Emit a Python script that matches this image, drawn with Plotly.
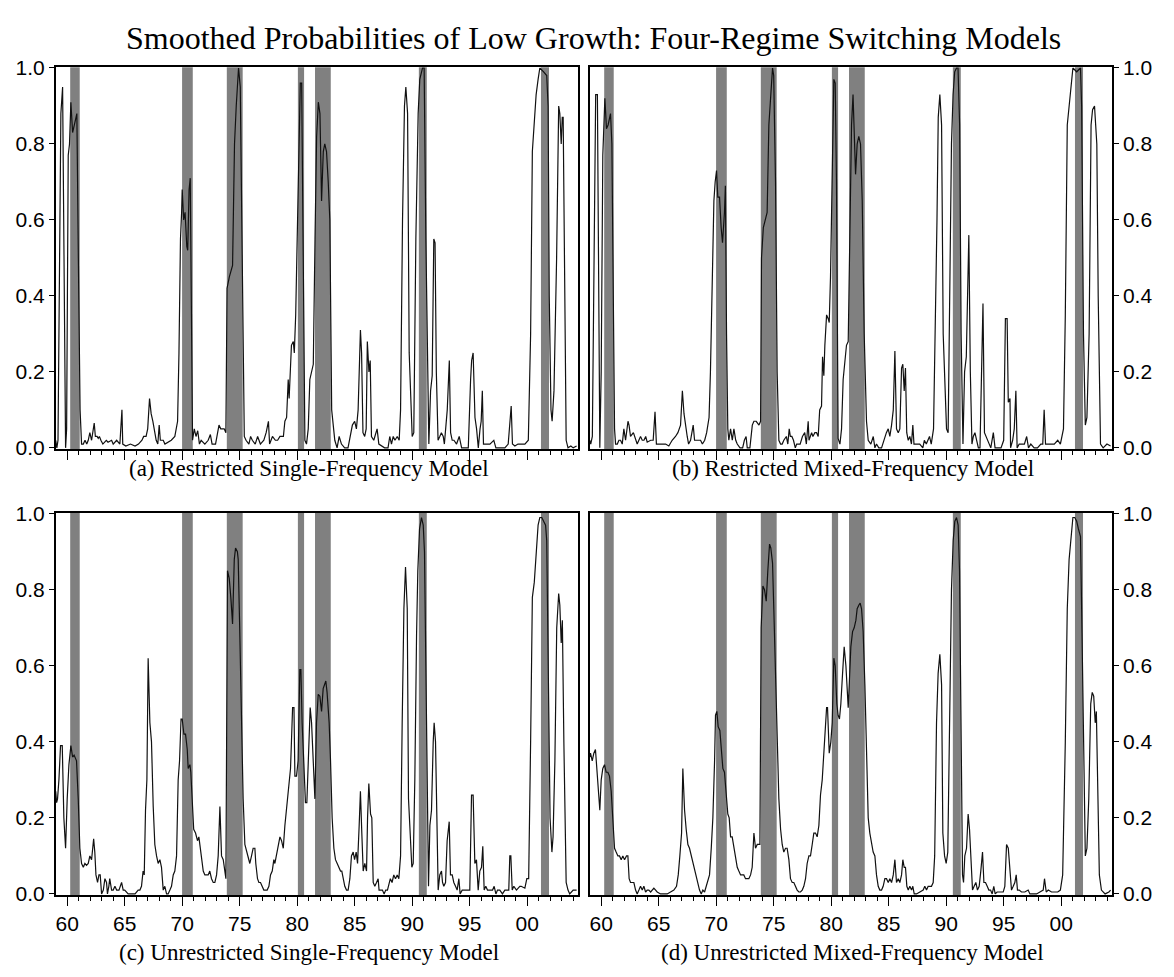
import plotly.graph_objects as go

# ---------------- data ----------------
TITLE = "Smoothed Probabilities of Low Growth: Four-Regime Switching Models"
panel_titles = ["(a) Restricted Single-Frequency Model",
                "(b) Restricted Mixed-Frequency Model",
                "(c) Unrestricted Single-Frequency Model",
                "(d) Unrestricted Mixed-Frequency Model"]

# NBER recession shading (decimal years)
rec_start = [1960.26, 1969.99, 1973.88, 1980.06, 1981.55, 1990.58, 2001.20]
rec_end   = [1961.09, 1970.92, 1975.26, 1980.60, 1982.92, 1991.27, 2001.90]

xtick_vals = [1960, 1965, 1970, 1975, 1980, 1985, 1990, 1995, 2000]
xtick_text = ["60", "65", "70", "75", "80", "85", "90", "95", "00"]
ytick_vals = [0.0, 0.2, 0.4, 0.6, 0.8, 1.0]

# (decimal year, probability)
prob_a = [(1959.0,.02),(1959.1,.00),(1959.2,.02),(1959.28,.25),(1959.45,.88),(1959.6,.95),(1959.73,.45),(1959.86,.00),(1959.95,.05),(1960.09,.77),(1960.2,.80),(1960.32,.91),(1960.47,.83),(1960.66,.86),(1960.84,.88),(1960.97,.50),(1961.12,.10),(1961.25,.01),(1961.4,.01),(1961.55,.02),(1961.7,.01),(1961.83,.02),(1961.97,.04),(1962.12,.02),(1962.35,.065),(1962.45,.03),(1962.6,.03),(1962.7,.025),(1962.8,.03),(1962.93,.02),(1963.1,.01),(1963.4,.02),(1963.55,.015),(1963.86,.02),(1964.0,.01),(1964.3,.02),(1964.58,.01),(1964.76,.10),(1964.83,.01),(1965.1,.005),(1965.5,.01),(1965.9,.005),(1966.2,.01),(1966.5,.02),(1966.65,.03),(1966.86,.03),(1967.0,.05),(1967.16,.13),(1967.3,.09),(1967.45,.07),(1967.6,.04),(1967.74,.02),(1967.88,.01),(1968.0,.06),(1968.1,.02),(1968.35,.02),(1968.5,.01),(1968.8,.015),(1969.05,.02),(1969.36,.03),(1969.5,.05),(1969.6,.07),(1969.72,.25),(1969.85,.55),(1969.95,.62),(1970.0,.68),(1970.13,.60),(1970.25,.62),(1970.4,.53),(1970.48,.52),(1970.6,.68),(1970.7,.71),(1970.82,.30),(1970.9,.02),(1971.05,.05),(1971.2,.03),(1971.35,.045),(1971.5,.01),(1971.65,.02),(1971.97,.01),(1972.26,.02),(1972.45,.035),(1972.6,.01),(1972.9,.01),(1973.2,.06),(1973.35,.05),(1973.65,.05),(1973.8,.04),(1973.9,.42),(1974.1,.45),(1974.38,.48),(1974.55,.80),(1974.7,.90),(1974.9,1.0),(1975.05,.95),(1975.25,.40),(1975.4,.03),(1975.55,.02),(1975.8,.01),(1975.95,.03),(1976.1,.02),(1976.35,.01),(1976.56,.03),(1976.8,.01),(1977.1,.02),(1977.3,.04),(1977.5,.07),(1977.6,.01),(1977.85,.03),(1978.1,.02),(1978.3,.02),(1978.5,.03),(1978.8,.03),(1978.93,.07),(1979.08,.08),(1979.22,.18),(1979.3,.13),(1979.5,.27),(1979.66,.28),(1979.75,.25),(1979.87,.35),(1980.0,.55),(1980.16,.80),(1980.27,.96),(1980.39,.96),(1980.53,.40),(1980.67,.02),(1980.81,.01),(1980.96,.05),(1981.1,.18),(1981.25,.20),(1981.4,.22),(1981.55,.55),(1981.69,.82),(1981.84,.91),(1981.98,.88),(1982.12,.65),(1982.2,.77),(1982.27,.78),(1982.4,.80),(1982.55,.78),(1982.7,.70),(1982.84,.60),(1983.0,.10),(1983.13,.05),(1983.27,.02),(1983.47,.00),(1983.65,.03),(1983.85,.01),(1984.13,.00),(1984.42,.00),(1984.63,.04),(1984.8,.06),(1985.0,.07),(1985.15,.05),(1985.3,.10),(1985.5,.31),(1985.6,.25),(1985.72,.04),(1985.87,.03),(1986.0,.05),(1986.1,.28),(1986.24,.20),(1986.35,.23),(1986.46,.03),(1986.66,.02),(1986.95,.05),(1987.1,.01),(1987.6,.00),(1987.9,.00),(1988.05,.03),(1988.2,.01),(1988.35,.03),(1988.5,.02),(1988.7,.03),(1988.87,.02),(1988.99,.10),(1989.16,.60),(1989.33,.90),(1989.45,.95),(1989.6,.88),(1989.74,.25),(1989.88,.10),(1990.0,.03),(1990.14,.04),(1990.32,.55),(1990.52,.88),(1990.66,.97),(1990.9,1.0),(1991.04,1.0),(1991.19,.55),(1991.33,.20),(1991.45,.01),(1991.6,.15),(1991.74,.19),(1991.88,.55),(1991.99,.54),(1992.1,.20),(1992.25,.02),(1992.4,.03),(1992.54,.04),(1992.7,.03),(1992.8,.01),(1993.05,.10),(1993.23,.23),(1993.34,.04),(1993.48,.02),(1993.63,.02),(1993.86,.01),(1994.09,.03),(1994.3,.00),(1994.6,.00),(1994.88,.00),(1995.08,.18),(1995.17,.23),(1995.3,.25),(1995.46,.08),(1995.6,.05),(1995.75,.00),(1995.9,.05),(1996.0,.07),(1996.1,.15),(1996.2,.01),(1996.45,.01),(1996.76,.01),(1997.1,.02),(1997.28,.00),(1997.5,.00),(1997.77,.00),(1998.06,.00),(1998.35,.01),(1998.5,.08),(1998.61,.11),(1998.72,.01),(1998.93,.005),(1999.2,.01),(1999.8,.01),(2000.1,.02),(2000.3,.30),(2000.45,.78),(2000.6,.85),(2000.78,.93),(2000.95,.97),(2001.1,1.0),(2001.43,.99),(2001.7,.98),(2001.82,.90),(2001.92,.40),(2002.07,.10),(2002.17,.07),(2002.33,.15),(2002.56,.50),(2002.74,.90),(2002.84,.88),(2002.96,.80),(2003.05,.87),(2003.13,.87),(2003.22,.60),(2003.39,.02),(2003.55,.00),(2003.8,.005),(2004.0,.00),(2004.3,.005)]

prob_b = [(1959.0,.02),(1959.09,.01),(1959.23,.03),(1959.38,.50),(1959.52,.93),(1959.67,.93),(1959.77,.50),(1959.88,.00),(1960.0,.20),(1960.14,.77),(1960.32,.92),(1960.46,.84),(1960.6,.85),(1960.81,.88),(1960.93,.80),(1961.04,.30),(1961.16,.05),(1961.25,.01),(1961.4,.01),(1961.54,.02),(1961.68,.02),(1961.83,.01),(1961.97,.05),(1962.12,.02),(1962.33,.07),(1962.42,.06),(1962.55,.03),(1962.8,.04),(1963.0,.02),(1963.13,.01),(1963.42,.03),(1963.57,.02),(1963.72,.02),(1963.87,.03),(1964.0,.015),(1964.3,.02),(1964.52,.02),(1964.68,.095),(1964.8,.01),(1965.0,.01),(1965.3,.01),(1965.6,.01),(1965.88,.005),(1966.17,.02),(1966.46,.03),(1966.67,.04),(1966.9,.06),(1967.06,.15),(1967.2,.09),(1967.35,.05),(1967.48,.03),(1967.6,.01),(1967.77,.02),(1968.0,.06),(1968.12,.02),(1968.35,.02),(1968.64,.02),(1968.8,.01),(1969.0,.02),(1969.17,.04),(1969.38,.08),(1969.5,.20),(1969.66,.45),(1969.8,.65),(1969.91,.70),(1970.03,.73),(1970.14,.66),(1970.29,.66),(1970.43,.58),(1970.55,.54),(1970.72,.62),(1970.8,.69),(1970.9,.30),(1971.01,.05),(1971.1,.02),(1971.25,.05),(1971.4,.02),(1971.54,.05),(1971.7,.02),(1971.83,.01),(1972.07,.00),(1972.3,.00),(1972.45,.02),(1972.6,.03),(1972.7,.00),(1972.93,.00),(1973.14,.06),(1973.28,.07),(1973.48,.07),(1973.72,.06),(1973.86,.07),(1973.94,.50),(1974.1,.58),(1974.3,.61),(1974.43,.62),(1974.58,.85),(1974.72,.93),(1974.9,1.0),(1975.0,.98),(1975.16,.70),(1975.3,.20),(1975.45,.02),(1975.6,.01),(1975.74,.01),(1975.88,.02),(1976.1,.03),(1976.23,.01),(1976.35,.05),(1976.45,.03),(1976.58,.03),(1976.72,.02),(1976.88,.00),(1977.0,.01),(1977.3,.01),(1977.5,.03),(1977.7,.04),(1977.84,.01),(1978.0,.07),(1978.07,.02),(1978.3,.04),(1978.41,.03),(1978.58,.04),(1978.73,.04),(1978.87,.03),(1979.0,.10),(1979.16,.11),(1979.25,.24),(1979.36,.19),(1979.45,.27),(1979.6,.35),(1979.74,.34),(1979.83,.33),(1979.94,.45),(1980.09,.75),(1980.23,.97),(1980.35,.96),(1980.46,.70),(1980.6,.025),(1980.76,.01),(1980.9,.05),(1981.04,.18),(1981.2,.23),(1981.33,.27),(1981.48,.28),(1981.62,.55),(1981.77,.85),(1981.9,.93),(1982.06,.78),(1982.12,.72),(1982.26,.80),(1982.4,.82),(1982.55,.80),(1982.7,.65),(1982.87,.30),(1983.0,.09),(1983.07,.07),(1983.22,.02),(1983.45,.01),(1983.66,.03),(1983.8,.00),(1983.94,.01),(1984.14,.00),(1984.38,.00),(1984.67,.03),(1984.8,.04),(1984.96,.05),(1985.1,.03),(1985.25,.06),(1985.4,.10),(1985.54,.255),(1985.68,.05),(1985.83,.04),(1985.97,.05),(1986.12,.21),(1986.23,.22),(1986.35,.15),(1986.46,.21),(1986.57,.04),(1986.7,.02),(1986.84,.03),(1986.98,.01),(1987.1,.06),(1987.2,.01),(1987.4,.01),(1987.7,.01),(1987.97,.00),(1988.1,.02),(1988.27,.01),(1988.4,.02),(1988.55,.03),(1988.7,.01),(1988.9,.05),(1989.2,.60),(1989.31,.87),(1989.45,.93),(1989.6,.85),(1989.74,.30),(1989.88,.18),(1990.03,.05),(1990.17,.04),(1990.32,.40),(1990.46,.80),(1990.6,.93),(1990.74,.99),(1990.9,1.0),(1991.03,1.0),(1991.17,.85),(1991.3,.30),(1991.46,.01),(1991.6,.20),(1991.75,.24),(1991.9,.55),(1991.97,.56),(1992.1,.20),(1992.24,.01),(1992.36,.03),(1992.5,.04),(1992.65,.02),(1992.8,.00),(1992.94,.00),(1993.1,.30),(1993.2,.38),(1993.33,.04),(1993.46,.03),(1993.6,.02),(1993.75,.01),(1993.88,.00),(1994.1,.04),(1994.25,.00),(1994.5,.00),(1994.77,.00),(1995.0,.02),(1995.15,.34),(1995.3,.34),(1995.4,.12),(1995.55,.13),(1995.6,.00),(1995.78,.02),(1995.92,.05),(1996.06,.15),(1996.17,.00),(1996.35,.01),(1996.5,.01),(1996.66,.01),(1996.8,.01),(1997.0,.03),(1997.16,.00),(1997.36,.01),(1997.65,.00),(1997.94,.00),(1998.23,.01),(1998.4,.01),(1998.52,.10),(1998.64,.01),(1998.8,.01),(1999.1,.01),(1999.4,.01),(1999.7,.02),(1999.93,.01),(2000.2,.05),(2000.36,.35),(2000.53,.85),(2000.76,.93),(2000.95,.98),(2001.02,1.0),(2001.35,.99),(2001.68,1.0),(2001.78,.90),(2001.94,.30),(2002.1,.06),(2002.24,.08),(2002.43,.30),(2002.6,.85),(2002.73,.89),(2002.9,.90),(2003.0,.85),(2003.1,.80),(2003.22,.40),(2003.42,.01),(2003.65,.00),(2003.98,.01),(2004.3,.005)]

prob_c = [(1959.0,.27),(1959.08,.24),(1959.16,.25),(1959.28,.30),(1959.42,.39),(1959.57,.39),(1959.71,.20),(1959.86,.12),(1960.0,.25),(1960.15,.34),(1960.32,.39),(1960.47,.36),(1960.6,.365),(1960.72,.355),(1960.81,.35),(1960.96,.25),(1961.1,.12),(1961.25,.08),(1961.4,.07),(1961.54,.08),(1961.68,.075),(1961.83,.08),(1961.97,.10),(1962.12,.09),(1962.3,.145),(1962.4,.11),(1962.5,.05),(1962.64,.03),(1962.76,.05),(1962.87,.05),(1962.99,.00),(1963.14,.01),(1963.28,.04),(1963.42,.03),(1963.5,.00),(1963.62,.02),(1963.7,.04),(1963.86,.01),(1964.0,.01),(1964.15,.02),(1964.3,.01),(1964.5,.01),(1964.73,.03),(1964.87,.01),(1965.0,.01),(1965.3,.00),(1965.6,.00),(1965.9,.00),(1966.17,.01),(1966.32,.01),(1966.46,.02),(1966.6,.06),(1966.7,.05),(1966.81,.22),(1966.93,.30),(1967.04,.62),(1967.19,.45),(1967.33,.40),(1967.48,.23),(1967.62,.13),(1967.77,.10),(1967.91,.08),(1968.06,.09),(1968.2,.07),(1968.35,.01),(1968.49,.02),(1968.64,.00),(1968.78,.00),(1968.93,.01),(1969.07,.02),(1969.22,.05),(1969.36,.06),(1969.51,.10),(1969.65,.30),(1969.77,.35),(1969.9,.46),(1970.0,.46),(1970.15,.42),(1970.29,.42),(1970.44,.38),(1970.52,.33),(1970.67,.34),(1970.75,.32),(1970.9,.20),(1971.0,.17),(1971.16,.16),(1971.33,.14),(1971.45,.15),(1971.58,.12),(1971.68,.09),(1971.83,.06),(1971.97,.05),(1972.1,.05),(1972.26,.05),(1972.4,.06),(1972.55,.04),(1972.7,.03),(1972.84,.03),(1972.99,.05),(1973.13,.10),(1973.28,.23),(1973.42,.10),(1973.57,.09),(1973.71,.05),(1973.8,.04),(1973.94,.85),(1974.09,.83),(1974.23,.78),(1974.38,.71),(1974.53,.88),(1974.64,.91),(1974.8,.90),(1974.87,.88),(1975.0,.70),(1975.16,.45),(1975.3,.25),(1975.45,.13),(1975.6,.11),(1975.74,.09),(1975.88,.08),(1976.03,.10),(1976.17,.12),(1976.32,.12),(1976.4,.08),(1976.55,.04),(1976.67,.03),(1976.81,.03),(1976.96,.02),(1977.1,.01),(1977.25,.01),(1977.39,.01),(1977.54,.02),(1977.68,.05),(1977.83,.06),(1977.97,.09),(1978.06,.08),(1978.2,.10),(1978.35,.12),(1978.5,.15),(1978.64,.14),(1978.79,.12),(1978.93,.18),(1979.08,.23),(1979.22,.27),(1979.3,.30),(1979.42,.33),(1979.5,.40),(1979.6,.49),(1979.72,.49),(1979.8,.31),(1979.94,.31),(1980.08,.35),(1980.23,.59),(1980.32,.59),(1980.43,.45),(1980.58,.35),(1980.72,.24),(1980.84,.24),(1980.96,.35),(1981.13,.49),(1981.25,.45),(1981.39,.35),(1981.54,.25),(1981.68,.45),(1981.83,.525),(1981.97,.52),(1982.12,.48),(1982.26,.54),(1982.4,.55),(1982.49,.56),(1982.6,.53),(1982.78,.45),(1982.9,.35),(1983.04,.20),(1983.19,.12),(1983.33,.09),(1983.48,.08),(1983.65,.07),(1983.77,.06),(1983.88,.06),(1984.0,.04),(1984.14,.02),(1984.29,.01),(1984.43,.01),(1984.58,.04),(1984.72,.10),(1984.87,.11),(1984.99,.09),(1985.13,.11),(1985.25,.08),(1985.39,.18),(1985.5,.27),(1985.62,.16),(1985.74,.06),(1985.88,.08),(1986.03,.06),(1986.12,.20),(1986.23,.29),(1986.38,.21),(1986.49,.20),(1986.61,.03),(1986.75,.02),(1986.9,.03),(1987.04,.04),(1987.12,.01),(1987.27,.01),(1987.41,.01),(1987.56,.00),(1987.7,.01),(1987.85,.01),(1987.99,.03),(1988.1,.04),(1988.25,.03),(1988.4,.05),(1988.55,.04),(1988.7,.05),(1988.84,.04),(1988.99,.10),(1989.13,.45),(1989.28,.75),(1989.42,.86),(1989.57,.75),(1989.68,.25),(1989.82,.15),(1989.97,.07),(1990.09,.08),(1990.23,.30),(1990.38,.68),(1990.49,.85),(1990.64,.96),(1990.81,.99),(1990.96,.97),(1991.07,.90),(1991.19,.60),(1991.33,.20),(1991.42,.02),(1991.54,.18),(1991.68,.22),(1991.83,.40),(1991.91,.45),(1992.03,.40),(1992.12,.20),(1992.26,.01),(1992.4,.05),(1992.55,.06),(1992.64,.03),(1992.75,.02),(1992.9,.03),(1993.04,.14),(1993.22,.19),(1993.33,.05),(1993.48,.05),(1993.62,.03),(1993.77,.02),(1993.91,.01),(1994.06,.04),(1994.17,.00),(1994.35,.01),(1994.58,.01),(1994.87,.01),(1995.01,.01),(1995.16,.26),(1995.3,.26),(1995.45,.08),(1995.59,.09),(1995.74,.01),(1995.88,.06),(1996.03,.07),(1996.14,.125),(1996.26,.01),(1996.4,.02),(1996.55,.01),(1996.7,.01),(1996.84,.01),(1996.99,.01),(1997.13,.02),(1997.28,.00),(1997.42,.01),(1997.62,.01),(1997.85,.00),(1998.06,.01),(1998.26,.01),(1998.4,.01),(1998.49,.10),(1998.58,.10),(1998.7,.01),(1998.84,.02),(1999.07,.01),(1999.36,.02),(1999.48,.02),(1999.8,.015),(1999.97,.04),(2000.13,.04),(2000.3,.40),(2000.45,.78),(2000.62,.82),(2000.78,.90),(2000.95,.97),(2001.1,.99),(2001.27,.99),(2001.43,.98),(2001.6,.97),(2001.7,.93),(2001.82,.60),(2001.99,.20),(2002.15,.11),(2002.25,.15),(2002.41,.35),(2002.57,.70),(2002.74,.79),(2002.84,.76),(2002.96,.66),(2003.06,.72),(2003.19,.40),(2003.39,.03),(2003.55,.01),(2003.7,.00),(2004.0,.01),(2004.3,.01)]

prob_d = [(1959.0,.36),(1959.07,.37),(1959.22,.35),(1959.36,.37),(1959.5,.38),(1959.65,.32),(1959.8,.25),(1959.88,.22),(1960.0,.30),(1960.14,.33),(1960.29,.34),(1960.43,.32),(1960.58,.32),(1960.72,.31),(1960.87,.27),(1961.01,.18),(1961.16,.12),(1961.3,.11),(1961.45,.10),(1961.59,.10),(1961.74,.09),(1961.88,.10),(1962.03,.09),(1962.2,.10),(1962.32,.10),(1962.43,.04),(1962.55,.03),(1962.7,.03),(1962.84,.03),(1962.99,.01),(1963.13,.00),(1963.28,.01),(1963.42,.02),(1963.57,.01),(1963.71,.02),(1963.86,.005),(1964.0,.01),(1964.14,.01),(1964.3,.005),(1964.58,.015),(1964.72,.01),(1964.87,.005),(1965.16,.00),(1965.45,.00),(1965.74,.00),(1966.03,.005),(1966.32,.01),(1966.55,.02),(1966.7,.05),(1966.84,.10),(1966.99,.16),(1967.1,.33),(1967.25,.22),(1967.39,.17),(1967.54,.13),(1967.68,.12),(1967.83,.10),(1967.97,.08),(1968.12,.06),(1968.26,.04),(1968.41,.02),(1968.55,.01),(1968.7,.00),(1968.84,.01),(1968.99,.005),(1969.13,.02),(1969.28,.04),(1969.42,.05),(1969.57,.12),(1969.71,.20),(1969.86,.35),(1969.94,.47),(1970.06,.48),(1970.17,.44),(1970.32,.43),(1970.43,.38),(1970.58,.33),(1970.72,.32),(1970.87,.26),(1971.01,.21),(1971.13,.20),(1971.25,.15),(1971.39,.15),(1971.54,.12),(1971.68,.09),(1971.83,.07),(1971.97,.06),(1972.12,.05),(1972.26,.05),(1972.4,.05),(1972.55,.04),(1972.7,.04),(1972.84,.04),(1972.99,.05),(1973.13,.07),(1973.28,.16),(1973.42,.12),(1973.57,.13),(1973.68,.13),(1973.8,.13),(1973.91,.70),(1974.06,.81),(1974.2,.80),(1974.35,.77),(1974.49,.85),(1974.64,.92),(1974.75,.91),(1974.9,.87),(1975.01,.75),(1975.16,.55),(1975.3,.40),(1975.45,.25),(1975.6,.17),(1975.74,.13),(1975.88,.11),(1976.03,.12),(1976.17,.12),(1976.32,.09),(1976.46,.04),(1976.61,.03),(1976.75,.03),(1976.9,.02),(1977.04,.01),(1977.19,.005),(1977.33,.005),(1977.48,.01),(1977.62,.02),(1977.77,.04),(1977.91,.08),(1978.06,.10),(1978.2,.10),(1978.35,.13),(1978.49,.16),(1978.64,.16),(1978.78,.15),(1978.93,.18),(1979.07,.26),(1979.22,.30),(1979.36,.37),(1979.5,.46),(1979.6,.49),(1979.68,.49),(1979.83,.37),(1979.97,.40),(1980.09,.45),(1980.23,.62),(1980.35,.60),(1980.49,.50),(1980.6,.47),(1980.72,.46),(1980.84,.50),(1980.99,.58),(1981.13,.65),(1981.28,.60),(1981.39,.52),(1981.48,.49),(1981.57,.55),(1981.71,.65),(1981.86,.69),(1982.0,.70),(1982.15,.72),(1982.26,.75),(1982.41,.76),(1982.52,.765),(1982.64,.75),(1982.78,.69),(1982.93,.55),(1983.07,.35),(1983.22,.20),(1983.36,.16),(1983.51,.13),(1983.65,.11),(1983.8,.10),(1983.94,.05),(1984.09,.02),(1984.23,.01),(1984.38,.01),(1984.52,.02),(1984.67,.04),(1984.81,.04),(1984.96,.03),(1985.1,.04),(1985.25,.03),(1985.4,.05),(1985.54,.09),(1985.68,.03),(1985.83,.04),(1985.97,.03),(1986.12,.05),(1986.23,.09),(1986.35,.07),(1986.46,.07),(1986.58,.02),(1986.7,.01),(1986.84,.02),(1986.99,.01),(1987.1,.02),(1987.22,.00),(1987.42,.00),(1987.71,.005),(1988.0,.01),(1988.14,.02),(1988.29,.01),(1988.43,.02),(1988.58,.02),(1988.72,.02),(1988.87,.03),(1989.0,.10),(1989.16,.45),(1989.3,.58),(1989.45,.63),(1989.6,.55),(1989.71,.16),(1989.86,.10),(1990.0,.08),(1990.14,.11),(1990.32,.50),(1990.46,.80),(1990.61,.93),(1990.75,.98),(1990.9,.99),(1991.04,.97),(1991.16,.85),(1991.28,.50),(1991.42,.05),(1991.51,.03),(1991.62,.10),(1991.77,.12),(1991.91,.21),(1992.03,.17),(1992.14,.10),(1992.29,.01),(1992.43,.02),(1992.58,.03),(1992.72,.01),(1992.87,.02),(1993.01,.06),(1993.16,.11),(1993.28,.03),(1993.42,.03),(1993.57,.02),(1993.71,.01),(1993.86,.01),(1994.0,.00),(1994.14,.02),(1994.26,.00),(1994.43,.005),(1994.67,.005),(1994.96,.005),(1995.1,.02),(1995.25,.13),(1995.4,.12),(1995.54,.06),(1995.68,.01),(1995.83,.02),(1995.97,.03),(1996.09,.05),(1996.2,.01),(1996.35,.01),(1996.55,.005),(1996.84,.005),(1997.13,.01),(1997.28,.00),(1997.57,.00),(1997.86,.00),(1998.15,.005),(1998.44,.01),(1998.55,.04),(1998.7,.005),(1998.88,.01),(1999.16,.005),(1999.45,.005),(1999.7,.005),(1999.93,.01),(2000.13,.05),(2000.36,.40),(2000.53,.75),(2000.69,.88),(2000.86,.95),(2001.02,.99),(2001.18,.99),(2001.35,.98),(2001.5,.96),(2001.68,.94),(2001.78,.75),(2001.94,.35),(2002.1,.10),(2002.24,.12),(2002.4,.25),(2002.57,.50),(2002.7,.53),(2002.83,.52),(2002.96,.45),(2003.06,.48),(2003.16,.30),(2003.32,.05),(2003.5,.01),(2003.82,.00),(2004.15,.005),(2004.3,.01)]

series = [prob_a, prob_b, prob_c, prob_d]

# ---------------- layout geometry ----------------
# page body has an 8px margin, so the figure is offset by (8, 8) in the window
OFF = 8
W, H = 1174 - 2 * OFF, 977 - 2 * OFF


def fx(px):
    return (px - OFF) / W


def fy(py):
    return 1 - (py - OFF) / H


x_dom = [[fx(55.7), fx(578)], [fx(589.7), fx(1112)]]
y_top = [fy(448), fy(57.3)]
y_bot = [fy(904), fy(513)]
panel_dom = [(x_dom[0], y_top), (x_dom[1], y_top), (x_dom[0], y_bot), (x_dom[1], y_bot)]
X_RANGE = [1959.0, 2004.42]
Y_RANGE = [-0.004, 1.002]

fig = go.Figure()
layout = dict(
    width=W, height=H, margin=dict(l=0, r=0, t=0, b=0),
    paper_bgcolor="white", plot_bgcolor="white", showlegend=False,
    font=dict(family="Liberation Sans, Arial, sans-serif", size=21, color="black"),
)

shapes = []
for i, (data, (xd, yd)) in enumerate(zip(series, panel_dom)):
    n = "" if i == 0 else str(i + 1)
    xa, ya = "x" + n, "y" + n
    is_right = i in (1, 3)
    is_bottom = i in (2, 3)
    layout["xaxis" + n] = dict(
        domain=xd, range=X_RANGE, anchor=ya, showgrid=False, zeroline=False,
        showline=True, linecolor="black", linewidth=1.5, mirror=True,
        ticks="outside", ticklen=9, tickwidth=1, tickcolor="black",
        tickvals=xtick_vals, ticktext=xtick_text, showticklabels=is_bottom,
        tickfont=dict(size=21),
        minor=dict(tickvals=list(range(1960, 2005)), ticks="outside", ticklen=4,
                   tickwidth=1, tickcolor="black"),
    )
    layout["yaxis" + n] = dict(
        domain=yd, range=Y_RANGE, anchor=xa, showgrid=False, zeroline=False,
        showline=True, linecolor="black", linewidth=1.5, mirror=True,
        side="right" if is_right else "left",
        ticks="outside", ticklen=5, tickwidth=1, tickcolor="black",
        tickvals=ytick_vals, tickformat=".1f", tickfont=dict(size=21),
    )
    for s, e in zip(rec_start, rec_end):
        shapes.append(dict(type="rect", xref=xa, yref=ya + " domain",
                           x0=s, x1=e, y0=0, y1=1, fillcolor="#808080",
                           line=dict(width=0), layer="below"))
    fig.add_trace(go.Scatter(
        x=[p[0] for p in data], y=[p[1] for p in data], xaxis=xa, yaxis=ya,
        mode="lines", line=dict(color="#111111", width=1.2), hoverinfo="skip",
    ))

layout["shapes"] = shapes

serif = "Liberation Serif, Times New Roman, serif"
annotations = [dict(text=TITLE, x=fx(593), y=fy(27), xref="paper", yref="paper",
                    showarrow=False, xanchor="center", yanchor="middle",
                    font=dict(family=serif, size=32, color="black"))]
sub_pos = [(309, 468), (853, 468), (309, 962), (852, 962)]
for t, (px, py) in zip(panel_titles, sub_pos):
    annotations.append(dict(text=t, x=fx(px), y=fy(py), xref="paper", yref="paper",
                            showarrow=False, xanchor="center", yanchor="middle",
                            font=dict(family=serif, size=23, color="black")))
layout["annotations"] = annotations

fig.update_layout(**layout)
fig.write_html("out.html")
